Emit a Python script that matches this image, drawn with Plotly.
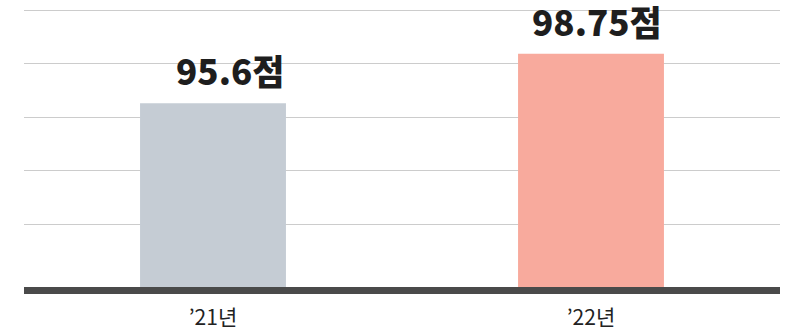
import plotly.graph_objects as go

years = ["’21년", "’22년"]
scores = [95.6, 98.75]
labels = ["95.6점", "98.75점"]
colors = ["#c5ccd4", "#f8aa9d"]
grid_values = [87.914, 91.316, 94.718, 98.12, 101.522]

bar_width = 0.386

fig = go.Figure(
    go.Bar(
        x=years,
        y=scores,
        width=bar_width,
        marker=dict(color=colors, line=dict(width=0)),
        hoverinfo="skip",
    )
)

# value labels sit above each bar, flush with the bar's right edge
for i, (score, label) in enumerate(zip(scores, labels)):
    fig.add_annotation(
        x=i + bar_width / 2,
        y=score,
        text=label,
        showarrow=False,
        xanchor="right",
        yanchor="bottom",
        yshift=6,
        font=dict(family="Noto Sans CJK KR", size=35, color="#1e1e1e", weight=900),
    )

fig.update_layout(
    width=797,
    height=336,
    margin=dict(l=24, r=17, t=5, b=47),
    paper_bgcolor="white",
    plot_bgcolor="white",
    showlegend=False,
    font=dict(family="Noto Sans CJK KR"),
)
fig.update_xaxes(
    range=[-0.5, 1.5],
    showline=True,
    linecolor="#4a4a4a",
    linewidth=7,
    showgrid=False,
    ticks="",
    ticklabelstandoff=6,
    tickfont=dict(size=21, color="#222222"),
)
fig.update_yaxes(
    range=[83.945, 101.84],
    tickmode="array",
    tickvals=grid_values,
    showticklabels=False,
    showgrid=True,
    gridcolor="#cccccc",
    gridwidth=1,
    zeroline=False,
)

# page has a default 8px body margin; drop it so the figure sits at 0,0
fig.write_html(
    "out.html",
    config={"displayModeBar": False},
    post_script="document.body.style.margin='0';",
)
